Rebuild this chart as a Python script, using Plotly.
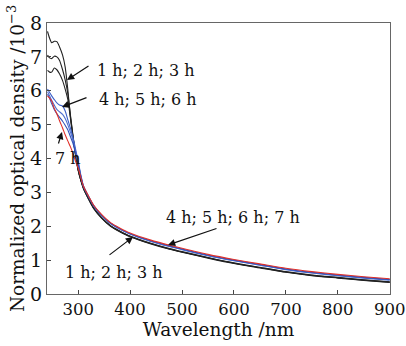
import plotly.graph_objects as go

# shared wavelength grid (nm)
wl = [241, 245, 249, 254, 259, 264, 270, 275, 280, 285, 290, 295, 300, 305, 310,
      320, 330, 345, 363, 380, 400, 440, 476, 500, 550, 600, 650, 700, 750, 800, 850, 900]

# 1 h, 2 h, 3 h (black)
od_1h = [7.75, 7.55, 7.42, 7.46, 7.45, 7.30, 7.05, 6.70, 6.05, 5.25, 4.65, 4.10, 3.66, 3.36, 3.12,
         2.80, 2.52, 2.24, 1.99, 1.84, 1.69, 1.48, 1.32, 1.23, 1.06, 0.90, 0.77, 0.64, 0.54, 0.47, 0.40, 0.34]
od_2h = [7.05, 6.97, 6.95, 7.02, 7.00, 6.90, 6.62, 6.32, 5.92, 5.30, 4.68, 4.12, 3.67, 3.37, 3.13,
         2.81, 2.53, 2.25, 2.00, 1.85, 1.70, 1.49, 1.33, 1.24, 1.07, 0.91, 0.78, 0.65, 0.55, 0.48, 0.41, 0.35]
od_3h = [6.60, 6.55, 6.55, 6.67, 6.62, 6.50, 6.30, 6.05, 5.75, 5.20, 4.62, 4.10, 3.66, 3.37, 3.13,
         2.82, 2.54, 2.26, 2.01, 1.86, 1.71, 1.50, 1.34, 1.25, 1.08, 0.92, 0.79, 0.66, 0.56, 0.49, 0.42, 0.36]
# 4 h, 5 h, 6 h (blue)
od_4h = [6.05, 5.95, 5.85, 5.74, 5.64, 5.58, 5.55, 5.40, 5.15, 4.90, 4.62, 4.28, 3.92, 3.52, 3.20,
         2.88, 2.60, 2.32, 2.07, 1.92, 1.77, 1.55, 1.40, 1.31, 1.13, 0.98, 0.85, 0.72, 0.62, 0.54, 0.47, 0.41]
od_5h = [5.97, 5.85, 5.72, 5.58, 5.45, 5.38, 5.30, 5.18, 5.00, 4.78, 4.55, 4.22, 3.88, 3.50, 3.19,
         2.88, 2.60, 2.32, 2.08, 1.92, 1.78, 1.56, 1.41, 1.32, 1.14, 0.99, 0.86, 0.73, 0.63, 0.55, 0.48, 0.42]
od_6h = [5.90, 5.78, 5.62, 5.45, 5.32, 5.22, 5.10, 4.98, 4.85, 4.65, 4.45, 4.15, 3.84, 3.48, 3.18,
         2.87, 2.60, 2.33, 2.08, 1.93, 1.78, 1.57, 1.42, 1.33, 1.15, 1.00, 0.87, 0.74, 0.64, 0.56, 0.49, 0.43]
# 7 h (red)
od_7h = [5.85, 5.78, 5.70, 5.48, 5.32, 5.12, 4.90, 4.70, 4.52, 4.35, 4.15, 3.92, 3.72, 3.45, 3.19,
         2.89, 2.62, 2.35, 2.10, 1.95, 1.80, 1.59, 1.44, 1.35, 1.17, 1.02, 0.89, 0.76, 0.66, 0.58, 0.51, 0.45]

series = [
    ("1 h", od_1h, "#222222"),
    ("2 h", od_2h, "#222222"),
    ("3 h", od_3h, "#222222"),
    ("4 h", od_4h, "#3a5fc8"),
    ("5 h", od_5h, "#4f6fd0"),
    ("6 h", od_6h, "#3050b8"),
    ("7 h", od_7h, "#e0302a"),
]

x_ticks = [300, 400, 500, 600, 700, 800, 900]
y_ticks = [0, 1, 2, 3, 4, 5, 6, 7, 8]

label_texts = ["1 h; 2 h; 3 h", "4 h; 5 h; 6 h", "7 h", "4 h; 5 h; 6 h; 7 h", "1 h; 2 h; 3 h"]

fig = go.Figure()
for name, vals, col in series:
    fig.add_trace(go.Scatter(x=wl, y=vals, mode="lines", name=name,
                             line=dict(color=col, width=1.1, shape="spline", smoothing=0.6),
                             showlegend=False))

font_family = "DejaVu Serif"

W, H = 406, 346
L, R, T, B = 47, 16, 23, 52
pw, ph = W - L - R, H - T - B
X0, X1 = 240, 900.5

label_pos = [(146, 70), (148, 99), (68, 158), (233, 217), (114, 272)]
arrows = [
    (90, 65, 67, 80),
    (88, 97, 62, 107),
    (58, 145, 62, 132),
    (218, 228, 168, 245),
    (108, 256, 133, 237),
]

def px2data(px, py):
    xd = X0 + (px - L) / pw * (X1 - X0)
    yd = 8 - (py - T) / ph * 8
    return xd, yd

for txt, (px, py) in zip(label_texts, label_pos):
    xd, yd = px2data(px, py)
    fig.add_annotation(x=xd, y=yd, xref="x", yref="y", text=txt, showarrow=False,
                       font=dict(family=font_family, size=16, color="#111111"),
                       xanchor="center", yanchor="middle")

for tx, ty, hx, hy in arrows:
    hxd, hyd = px2data(hx, hy)
    txd, tyd = px2data(tx, ty)
    fig.add_annotation(x=hxd, y=hyd, ax=txd, ay=tyd, xref="x", yref="y", axref="x", ayref="y",
                       text="", showarrow=True, arrowhead=2, arrowsize=1.2, arrowwidth=1.2,
                       arrowcolor="#111111")

fig.update_layout(
    width=W, height=H,
    margin=dict(l=L, r=R, t=T, b=B, autoexpand=False),
    paper_bgcolor="white", plot_bgcolor="white",
    font=dict(family=font_family, size=18, color="#111111"),
    xaxis=dict(range=[X0, X1], tickvals=x_ticks, ticks="inside", ticklen=4,
               tickcolor="#444444", showline=True, linecolor="#666666", linewidth=1,
               mirror=True, showgrid=False, zeroline=False, ticklabeloverflow="allow",
               automargin=False,
               title=dict(text="Wavelength /nm", standoff=0, font=dict(size=18.5)),
               tickfont=dict(size=16.5)),
    yaxis=dict(range=[0, 8], tickvals=y_ticks, ticks="inside", ticklen=4,
               tickcolor="#444444", showline=True, linecolor="#666666", linewidth=1,
               mirror=True, showgrid=False, zeroline=False, ticklabeloverflow="allow",
               automargin=False,
               title=dict(text="Normalized optical density /10<sup>−3</sup>", standoff=0,
                          font=dict(size=18.5)),
               tickfont=dict(size=19)),
)

fig.write_html("out.html")
